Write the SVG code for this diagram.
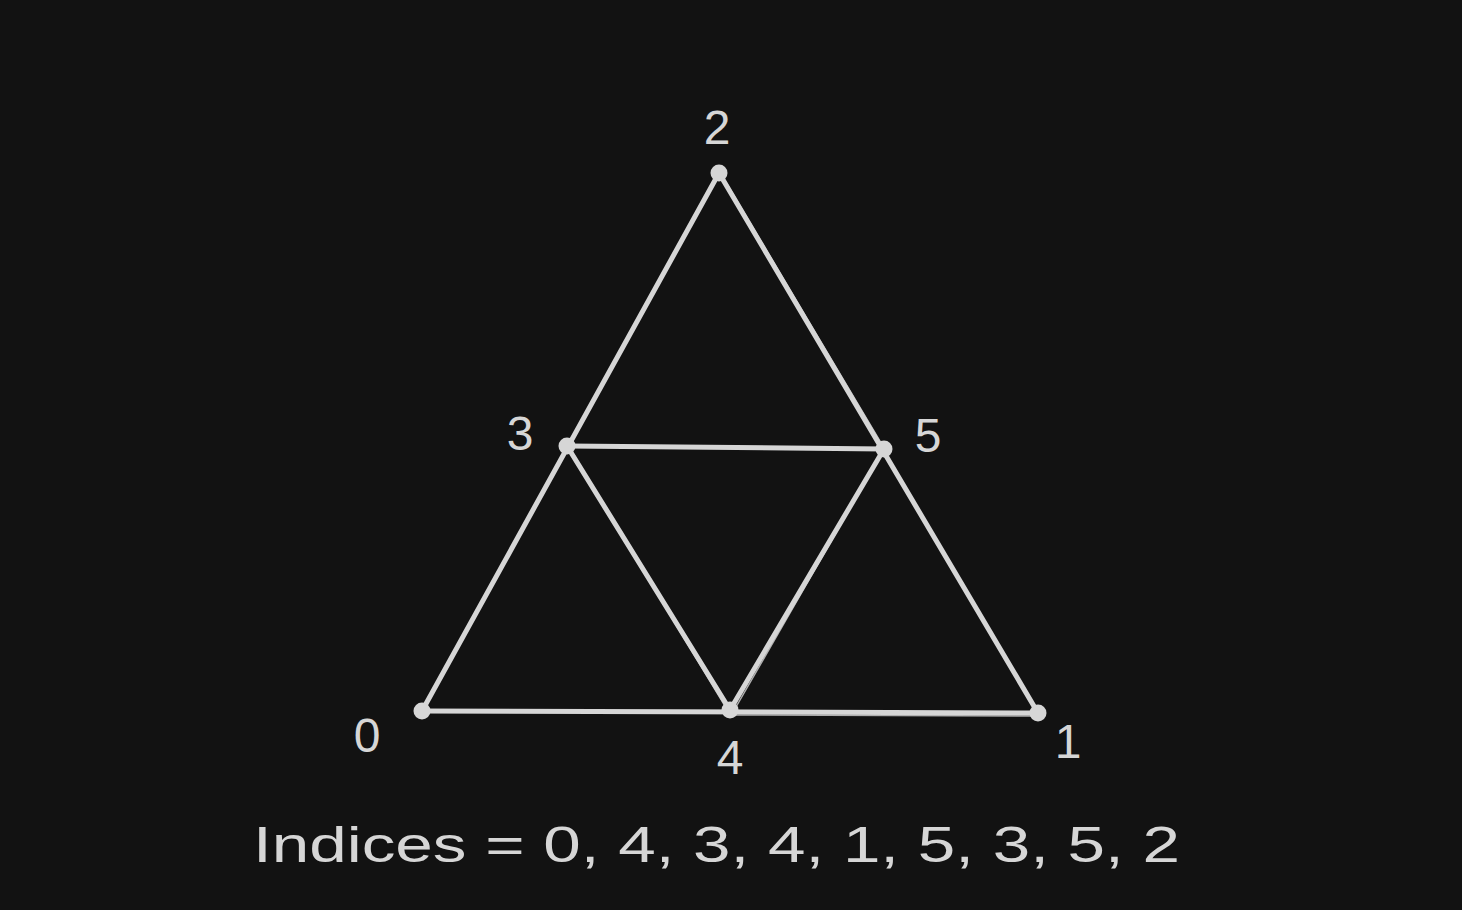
<svg xmlns="http://www.w3.org/2000/svg" width="1462" height="910" viewBox="0 0 1462 910">
<style>
.e{stroke:#d6d6d6;stroke-width:5;stroke-linecap:round;fill:none}
.t{stroke:#d6d6d6;stroke-width:1.5;stroke-linecap:round;fill:none;opacity:0.8}
.d{fill:#d6d6d6}
.l{font-family:"Liberation Sans",Arial,sans-serif;font-size:48px;fill:#d6d6d6;text-anchor:middle}
</style>
<rect width="1462" height="910" fill="#121212"/>
<g id="connectors">
<path class="e" d="M422 711 L719 173"/>
<path class="e" d="M719 173 L1038 713"/>
<path class="t" d="M724 179 L887 453"/>
<path class="e" d="M422 711 L1038 713"/>
<path class="t" d="M730 715 L1036 716"/>
<path class="e" d="M567 446 L884 449"/>
<path class="e" d="M567 446 L730 710"/>
<path class="t" d="M572 452 L725 706"/>
<path class="e" d="M730 710 L884 449"/>
<path class="t" d="M736 707 L880 456"/>
</g>
<g id="v0"><circle class="d" cx="422" cy="711" r="8.5"/><text class="l" x="367" y="752">0</text></g>
<g id="v1"><circle class="d" cx="1038" cy="713" r="8.5"/><text class="l" x="1068" y="758">1</text></g>
<g id="v2"><circle class="d" cx="719" cy="173" r="8.5"/><text class="l" x="717" y="144">2</text></g>
<g id="v3"><circle class="d" cx="567" cy="446" r="8.5"/><text class="l" x="520" y="450">3</text></g>
<g id="v4"><circle class="d" cx="730" cy="710" r="8.5"/><text class="l" x="730" y="774">4</text></g>
<g id="v5"><circle class="d" cx="884" cy="449" r="8.5"/><text class="l" x="928" y="452">5</text></g>
<g id="caption"><text x="253" y="862" font-family="Liberation Sans, Arial, sans-serif" font-size="50" fill="#d6d6d6" textLength="927" lengthAdjust="spacingAndGlyphs">Indices = 0, 4, 3, 4, 1, 5, 3, 5, 2</text></g>
</svg>
